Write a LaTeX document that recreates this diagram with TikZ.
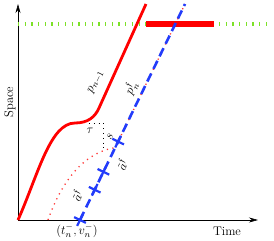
\RequirePackage{fix-cm}
\documentclass[tikz,border=0pt]{standalone}
\usepackage{amsfonts}
\usetikzlibrary{arrows.meta,calc,shapes.misc}
\definecolor{gline}{RGB}{125,225,40}
\definecolor{rline}{RGB}{255,0,0}
\definecolor{bline}{RGB}{35,60,250}
\begin{document}
\begin{tikzpicture}[x=1pt,y=-1pt,
  axis/.style={line width=0.6pt,-{Stealth[length=9pt,width=5pt]}},
  lbl/.style={font=\fontsize{12.5}{15}\selectfont,inner sep=0pt},
  rot/.style={lbl,rotate=64},
  greenline/.style={gline,line width=4.5pt,dash pattern=on 1.3pt off 5.4pt},
  redbar/.style={rline,line width=6pt},
  redcurve/.style={rline,line width=2.8pt},
  reddots/.style={rline!80!white,line width=1.3pt,dash pattern=on 1.2pt off 4.4pt},
  blackdots/.style={black,line width=0.8pt,dash pattern=on 0.8pt off 4pt},
  bluedash/.style={bline,line width=2.6pt,dash pattern=on 9pt off 5pt},
  crossmk/.style={cross out,draw=bline,line width=2.2pt,minimum size=7pt,inner sep=0pt,rotate=19}
]
\useasboundingbox (0,0) rectangle (274,241);
% axes
\coordinate (O) at (18,220);
\coordinate (Ytop) at (18,4);
\coordinate (Xend) at (258,220);
\draw[axis] (O) -- (Ytop);
\draw[axis] (O) -- (Xend);
\node[lbl] (time) at (227,231) {Time};
\node[lbl,rotate=90] (space) at (10,102) {Space};
% green dashed level and red bar
\coordinate (GL) at (18,24);
\coordinate (GR) at (272,24);
\draw[greenline] (GL) -- (GR);
\coordinate (RB0) at (146,24);
\coordinate (RB1) at (214,24);
\draw[redbar] (RB0) -- (RB1);
% red trajectory p_{n-1}
\coordinate (P1) at (75,123);
\coordinate (P2) at (99,108);
\coordinate (P3) at (146,4);
\draw[redcurve] (O) .. controls (38,175) and (50,123) .. (P1)
  .. controls (88,123) and (95,117) .. (P2) -- (P3);
% blue line endpoints
\coordinate (B0) at (80,220);
\coordinate (B1) at (185,4);
\coordinate (J) at ($(B0)!0.335!(B1)$);
% red dotted trajectory
\coordinate (R0) at (48,220);
\draw[reddots] (R0) .. controls (62,180) and (85,152) .. (J) -- (B1);
% black dotted tau / s
\coordinate (K1) at (89,123);
\coordinate (K2) at (103,123);
\coordinate (K3) at (103,152);
\draw[blackdots] (K1) -- (K2) -- (K3);
% blue dashed line
\draw[bluedash] (B0) -- (B1);
\node[crossmk] (c0) at (B0) {};
\node[crossmk] (c1) at ($(B0)!0.14!(B1)$) {};
\node[crossmk] (c2) at ($(B0)!0.223!(B1)$) {};
\node[crossmk] (c3) at ($(B0)!0.363!(B1)$) {};
% labels
\node[rot] (lp1) at (96,82) {$p_{n-1}$};
\node[rot] (lpn) at (131,88) {$p_n^{\mathfrak{f}}$};
\node[lbl] (ltau) at (90,131) {$\tau$};
\node[rot] (ls) at (110,137) {$s$};
\node[rot] (la1) at (122,165) {$\tilde{a}^{\mathfrak{f}}$};
\node[rot] (la2) at (77,196) {$\tilde{a}^{\mathfrak{f}}$};
\node[lbl] (lt) at (77,231) {$(t_n^-,v_n^-)$};
\end{tikzpicture}
\end{document}
